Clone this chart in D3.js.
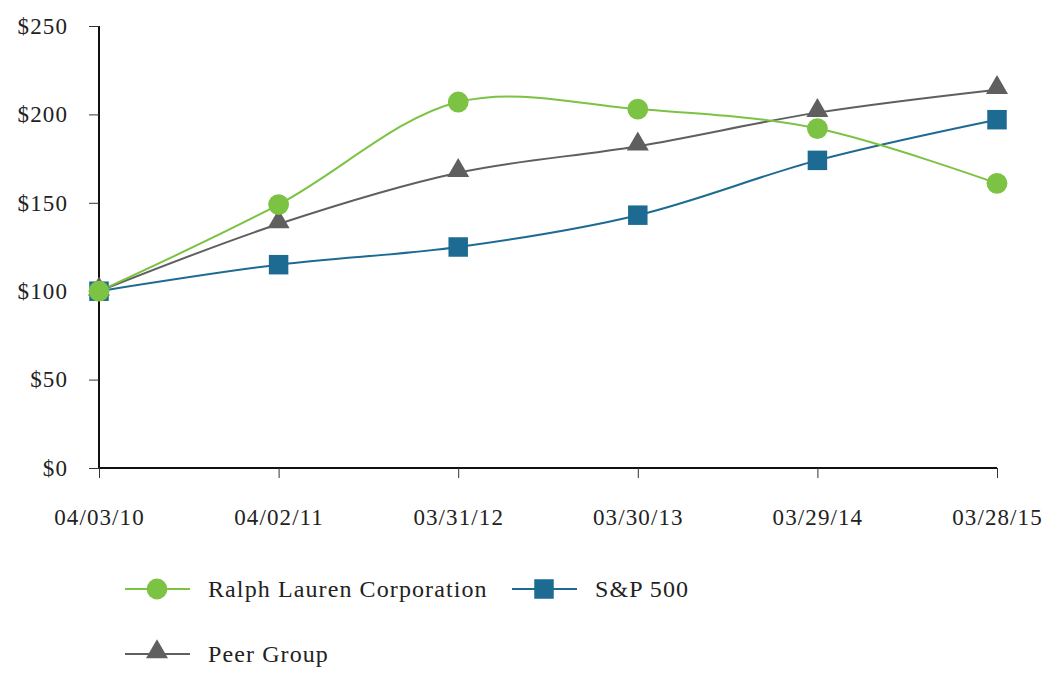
<!DOCTYPE html>
<html lang="en">
<head>
    <meta charset="UTF-8">
    <title>Cumulative Total Return</title>
    <script src="https://cdn.jsdelivr.net/npm/d3@7/dist/d3.min.js"></script>
    <style>
        body, html { margin: 0; padding: 0; background: #fff; overflow: hidden; }
        svg { display: block; }
        text { font-family: "Liberation Serif", "DejaVu Serif", serif; fill: #222; letter-spacing: 1.1px; }
    </style>
</head>
<body>
    <svg id="mainsvg"></svg>
    <script>
        // data
        const dates = ['04/03/10', '04/02/11', '03/31/12', '03/30/13', '03/29/14', '03/28/15'];
        const ralphLauren = [100, 149, 207, 203, 192, 161];
        const sp500 = [100, 115, 125, 143, 174, 197];
        const peerGroup = [100, 138, 167, 182, 201, 214];
        const yTicks = [0, 50, 100, 150, 200, 250];

        const series = [
            { name: 'Peer Group', values: peerGroup, color: '#5f5f5f', shape: 'triangle' },
            { name: 'S&P 500', values: sp500, color: '#1d6b93', shape: 'square' },
            { name: 'Ralph Lauren Corporation', values: ralphLauren, color: '#7cc243', shape: 'circle' }
        ];

        const width = 1054, height = 677;
        const svg = d3.select('svg').attr('width', width).attr('height', height);

        const margin = { top: 26, right: 57, bottom: 209, left: 99 };
        const innerWidth = width - margin.left - margin.right;
        const innerHeight = height - margin.top - margin.bottom;

        const g = svg.append('g').attr('transform', `translate(${margin.left}, ${margin.top})`);

        const xScale = d3.scalePoint().domain(dates).range([0, innerWidth]);
        const yScale = d3.scaleLinear().domain([0, 250]).range([innerHeight, 0]);

        const yAxis = d3.axisLeft(yScale).tickValues(yTicks).tickFormat(d => '$' + d).tickSize(10).tickPadding(21);
        const xAxis = d3.axisBottom(xScale).tickSize(10).tickPadding(31);

        const yAxisGroup = g.append('g').call(yAxis);
        const xAxisGroup = g.append('g').attr('transform', `translate(0, ${innerHeight})`).call(xAxis);

        [yAxisGroup, xAxisGroup].forEach(ax => {
            ax.attr('font-family', null);
            ax.select('.domain').attr('stroke', '#111').attr('stroke-width', 2);
            ax.selectAll('.tick line').attr('stroke', '#333').attr('stroke-width', 1);
            ax.selectAll('.tick text').attr('font-size', '23px').attr('fill', '#222');
        });
        // axis lines without the outer tick stubs
        yAxisGroup.select('.domain').attr('d', `M0,0V${innerHeight}`);
        xAxisGroup.select('.domain').attr('d', `M0,0H${innerWidth}`);

        const line = d3.line()
            .x((d, i) => xScale(dates[i]))
            .y(d => yScale(d))
            .curve(d3.curveCatmullRom.alpha(0.5));

        const symbolFor = shape => {
            if (shape === 'circle') return d3.symbol().type(d3.symbolCircle).size(340);
            if (shape === 'square') return d3.symbol().type(d3.symbolSquare).size(380);
            return d3.symbol().type(d3.symbolTriangle).size(210);
        };

        series.forEach(s => {
            g.append('path')
                .datum(s.values)
                .attr('fill', 'none')
                .attr('stroke', s.color)
                .attr('stroke-width', 2)
                .attr('d', line);
        });

        series.forEach(s => {
            g.selectAll('.m-' + s.shape)
                .data(s.values)
                .enter().append('path')
                .attr('class', 'm-' + s.shape)
                .attr('transform', (d, i) => `translate(${xScale(dates[i])}, ${yScale(d) + (s.shape === 'triangle' ? -2 : 0)})`)
                .attr('d', symbolFor(s.shape)())
                .attr('fill', s.color);
        });

        // legend
        const legendItems = [
            { s: series[2], x: 125, y: 589 },
            { s: series[1], x: 512, y: 589 },
            { s: series[0], x: 125, y: 654 }
        ];
        const legend = svg.append('g');
        legendItems.forEach(item => {
            const lg = legend.append('g').attr('transform', `translate(${item.x}, ${item.y})`);
            lg.append('line').attr('x1', 0).attr('x2', 65).attr('y1', 0).attr('y2', 0)
                .attr('stroke', item.s.color).attr('stroke-width', 2);
            lg.append('path')
                .attr('transform', `translate(32, ${item.s.shape === 'triangle' ? -2 : 0})`)
                .attr('d', symbolFor(item.s.shape)())
                .attr('fill', item.s.color);
            lg.append('text').attr('x', 83).attr('y', 0).attr('dy', '0.35em')
                .attr('font-size', '24px').text(item.s.name);
        });
    </script>
</body>
</html>
